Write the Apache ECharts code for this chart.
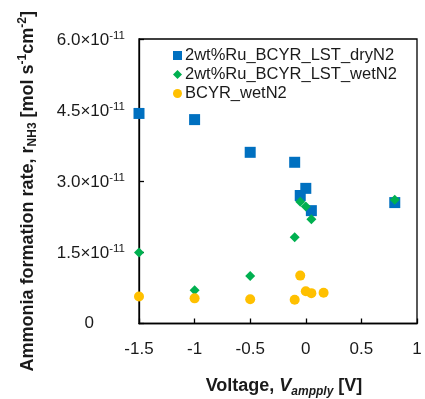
<!DOCTYPE html>
<html>
<head>
<meta charset="utf-8">
<script src="https://cdn.jsdelivr.net/npm/echarts@6/dist/echarts.min.js"></script>
<style>
  html, body {margin: 0; padding: 0; background: #fff;}
  #chart {width: 425px; height: 399px;}
</style>
</head>
<body>
<div id="chart"></div>
<script>
// rates are in units of 1e-11 mol s-1 cm-2
const seriesNames = ['2wt%Ru_BCYR_LST_dryN2', '2wt%Ru_BCYR_LST_wetN2', 'BCYR_wetN2'];

const dryV = [-1.5, -1.0, -0.5, -0.1, 0.0, -0.05, 0.05, 0.8];
const dryRate = [4.43, 4.30, 3.61, 3.40, 2.85, 2.70, 2.38, 2.55];

const wetV = [-1.5, -1.0, -0.5, -0.1, -0.05, 0.0, 0.05, 0.8];
const wetRate = [1.50, 0.70, 1.00, 1.82, 2.57, 2.47, 2.20, 2.61];

const bcyrV = [-1.5, -1.0, -0.5, -0.1, -0.05, 0.0, 0.05, 0.16];
const bcyrRate = [0.57, 0.53, 0.51, 0.50, 1.01, 0.68, 0.64, 0.65];

const yTickLabels = ['0', '1.5', '3.0', '4.5', '6.0'];

const font = '"Liberation Sans", Arial, sans-serif';
const textColor = '#1a1a1a';

const zip = (xs, ys) => xs.map((x, i) => [x, ys[i]]);

const chart = echarts.init(document.getElementById('chart'));

chart.setOption({
    animation: false,
    textStyle: {fontFamily: font, color: textColor},
    grid: {
        left: 139,
        right: 8,
        top: 39,
        bottom: 75.5,
        outerBoundsMode: 'none',
        containLabel: false,
        show: true,
        borderColor: '#000',
        borderWidth: 1.3
    },
    legend: {
        orient: 'vertical',
        left: 168,
        top: 42,
        itemWidth: 9,
        itemHeight: 9,
        itemGap: 2,
        textStyle: {fontSize: 16.5, color: textColor, fontFamily: font, padding: [0, 0, 0, -2]},
        data: [
            {name: seriesNames[0], icon: 'rect'},
            {name: seriesNames[1], icon: 'diamond'},
            {name: seriesNames[2], icon: 'circle'}
        ]
    },
    xAxis: {
        type: 'value',
        min: -1.5,
        max: 1,
        interval: 0.5,
        splitLine: {show: false},
        axisLine: {show: true, onZero: false, lineStyle: {color: '#000', width: 1.3}},
        axisTick: {show: true, inside: true, length: 5, lineStyle: {color: '#000', width: 1.3}},
        axisLabel: {fontSize: 17, color: textColor, margin: 17, fontFamily: font},
        name: '{b|Voltage, }{i|V}{isub|ampply}{b| [V]}',
        nameLocation: 'middle',
        nameGap: 52,
        nameTextStyle: {
            padding: [0, 0, 0, 12],
            rich: {
                b: {fontSize: 18, fontWeight: 'bold', color: textColor, fontFamily: font, lineHeight: 22, verticalAlign: 'middle'},
                i: {fontSize: 18, fontWeight: 'bold', fontStyle: 'italic', color: textColor, fontFamily: font, lineHeight: 22, verticalAlign: 'middle'},
                isub: {fontSize: 12, fontWeight: 'bold', fontStyle: 'italic', color: textColor, fontFamily: font, verticalAlign: 'bottom', lineHeight: 14}
            }
        }
    },
    yAxis: {
        type: 'value',
        min: 0,
        max: 6,
        interval: 1.5,
        splitLine: {show: false},
        axisLine: {show: true, onZero: false, lineStyle: {color: '#000', width: 1.3}},
        axisTick: {show: true, inside: true, length: 5, lineStyle: {color: '#000', width: 1.3}},
        axisLabel: {
            margin: 14,
            formatter: (v) => {
                const idx = Math.round(v / 1.5);
                const lab = yTickLabels[idx];
                if (lab === '0') return '{z|0}';
                return '{b|' + lab + '×10}{s|-11}';
            },
            rich: {
                b: {fontSize: 17, color: textColor, fontFamily: font, lineHeight: 19, verticalAlign: 'bottom'},
                s: {fontSize: 11.5, color: textColor, fontFamily: font, lineHeight: 12, verticalAlign: 'top'},
                z: {fontSize: 17, color: textColor, fontFamily: font, padding: [0, 31, 0, 0]}
            }
        },
        name: '{b|Ammonia formation rate, r}{sub|NH3}{b| [mol s}{sup|-1}{b|cm}{sup|-2}{end|]}',
        nameLocation: 'middle',
        nameRotate: 90,
        nameGap: 100,
        nameTextStyle: {
            rich: {
                b: {fontSize: 18, fontWeight: 'bold', color: textColor, fontFamily: font, lineHeight: 22, verticalAlign: 'middle'},
                end: {fontSize: 18, fontWeight: 'bold', color: textColor, fontFamily: font, lineHeight: 22, verticalAlign: 'middle', padding: [0, 20, 0, 0]},
                sub: {fontSize: 12, fontWeight: 'bold', color: textColor, fontFamily: font, lineHeight: 13, verticalAlign: 'bottom'},
                sup: {fontSize: 12, fontWeight: 'bold', color: textColor, fontFamily: font, lineHeight: 13, verticalAlign: 'top'}
            }
        }
    },
    series: [
        {
            name: seriesNames[0],
            type: 'scatter',
            symbol: 'rect',
            symbolSize: 11,
            itemStyle: {color: '#0070C0', opacity: 1},
            data: zip(dryV, dryRate)
        },
        {
            name: seriesNames[1],
            type: 'scatter',
            symbol: 'diamond',
            symbolSize: 10,
            itemStyle: {color: '#00B050', opacity: 1},
            data: zip(wetV, wetRate)
        },
        {
            name: seriesNames[2],
            type: 'scatter',
            symbol: 'circle',
            symbolSize: 10,
            itemStyle: {color: '#FFC000', opacity: 1},
            data: zip(bcyrV, bcyrRate)
        }
    ]
});
</script>
</body>
</html>
